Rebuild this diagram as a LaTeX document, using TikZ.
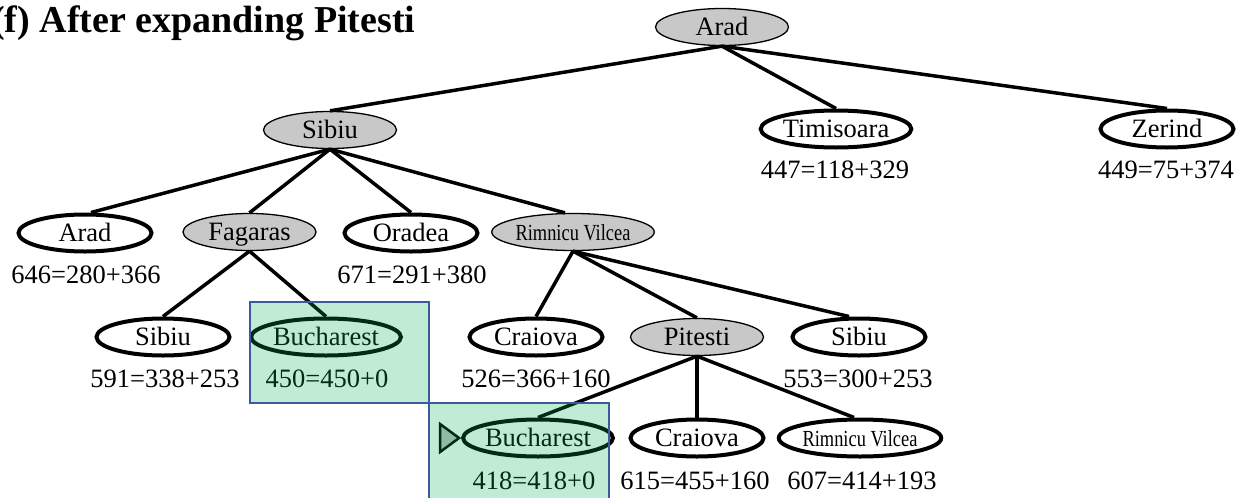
\documentclass[tikz,border=0pt]{standalone}
\usepackage{fontspec}
\usepackage{graphicx}
\setmainfont{Liberation Serif}
\usetikzlibrary{shapes.geometric,calc}
\definecolor{nodegray}{RGB}{200,200,200}
\definecolor{markgray}{RGB}{190,190,190}
\definecolor{overlaygreen}{RGB}{3,175,83}
\definecolor{boxblue}{RGB}{60,90,160}
\begin{document}
\begin{tikzpicture}[x=1pt,y=-1pt,
  basenode/.style={ellipse, minimum width=133pt, minimum height=37pt, inner sep=0pt,
    font=\fontsize{26.5}{28}\selectfont, text height=17.5pt, text depth=0pt},
  expanded/.style={basenode, draw=black, line width=1.3pt, fill=nodegray},
  frontier/.style={basenode, draw=black, line width=4pt, fill=white},
  fval/.style={font=\fontsize{26.5}{28}\selectfont, anchor=base, inner sep=0pt},
  treeedge/.style={line width=3.5pt},
  hilite/.style={draw=boxblue, line width=2pt, fill=overlaygreen, fill opacity=0.25},
  marker/.style={draw=black, line width=2.5pt, fill=markgray, line join=miter}
]
\useasboundingbox (0,0) rectangle (1240,498);

% title
\node[anchor=base west, inner sep=0pt, font=\bfseries\fontsize{38}{40}\selectfont] (title) at (-8,32) {(f) After expanding Pitesti};

% level 1
\node[expanded] (arad0) at (722,27) {Arad};
% level 2
\node[expanded] (sibiu1) at (330,130) {Sibiu};
\node[frontier] (timis) at (836,129) {Timisoara};
\node[frontier] (zerind) at (1167,129) {Zerind};
% level 3
\node[frontier] (arad2) at (85,233) {Arad};
\node[expanded] (fagaras) at (249.5,232) {Fagaras};
\node[frontier] (oradea) at (411,233) {Oradea};
\node[expanded] (rimnicu) at (573,232) {\scalebox{0.8}[1]{\fontsize{23}{24}\selectfont Rimnicu Vilcea}};
% level 4
\node[frontier] (sibiu3) at (163,337) {Sibiu};
\node[frontier] (buch1) at (326,337) {Bucharest};
\node[frontier] (craiova1) at (536,337) {Craiova};
\node[expanded] (pitesti) at (697,337) {Pitesti};
\node[frontier] (sibiu4) at (859,337) {Sibiu};
% level 5
\node[frontier] (buch2) at (538,438) {Bucharest};
\node[frontier] (craiova2) at (697,438) {Craiova};
\node[frontier] (rimnicu2) at (860,438) {\scalebox{0.8}[1]{\fontsize{23}{24}\selectfont Rimnicu Vilcea}};

% f-values
\node[fval] (ftimis) at (835,178) {447=118+329};
\node[fval] (fzerind) at (1166,178) {449=75+374};
\node[fval] (farad2) at (86,283) {646=280+366};
\node[fval] (foradea) at (412,283) {671=291+380};
\node[fval] (fsibiu3) at (165,387) {591=338+253};
\node[fval] (fbuch1) at (327,387) {450=450+0};
\node[fval] (fcraiova1) at (536,387) {526=366+160};
\node[fval] (fsibiu4) at (858,387) {553=300+253};
\node[fval] (fbuch2) at (534,489) {418=418+0};
\node[fval] (fcraiova2) at (695,489) {615=455+160};
\node[fval] (frimnicu2) at (862,489) {607=414+193};

% edges
\draw[treeedge] (arad0.south) -- (sibiu1.north);
\draw[treeedge] (arad0.south) -- (timis.north);
\draw[treeedge] (arad0.south) -- (zerind.north);
\draw[treeedge] (sibiu1.south) -- ($(arad2.north)+(6,0)$);
\draw[treeedge] (sibiu1.south) -- (fagaras.north);
\draw[treeedge] (sibiu1.south) -- (oradea.north);
\draw[treeedge] (sibiu1.south) -- ($(rimnicu.north)+(-8,0)$);
\draw[treeedge] (fagaras.south) -- (sibiu3.north);
\draw[treeedge] (fagaras.south) -- (buch1.north);
\draw[treeedge] (rimnicu.south) -- (craiova1.north);
\draw[treeedge] (rimnicu.south) -- (pitesti.north);
\draw[treeedge] (rimnicu.south) -- ($(sibiu4.north)+(-10,0)$);
\draw[treeedge] (pitesti.south) -- (buch2.north);
\draw[treeedge] (pitesti.south) -- (craiova2.north);
\draw[treeedge] (pitesti.south) -- ($(rimnicu2.north)+(-6,0)$);

% selection marker
\draw[marker] ($(buch2.west)+(-2,0)$) -- ++(-19,-14) -- ++(0,28) -- cycle;

% highlight boxes (translucent overlay)
\draw[hilite] (250,302) rectangle (429,403);
\draw[hilite] (429,403) rectangle (609,512);
\end{tikzpicture}
\end{document}
